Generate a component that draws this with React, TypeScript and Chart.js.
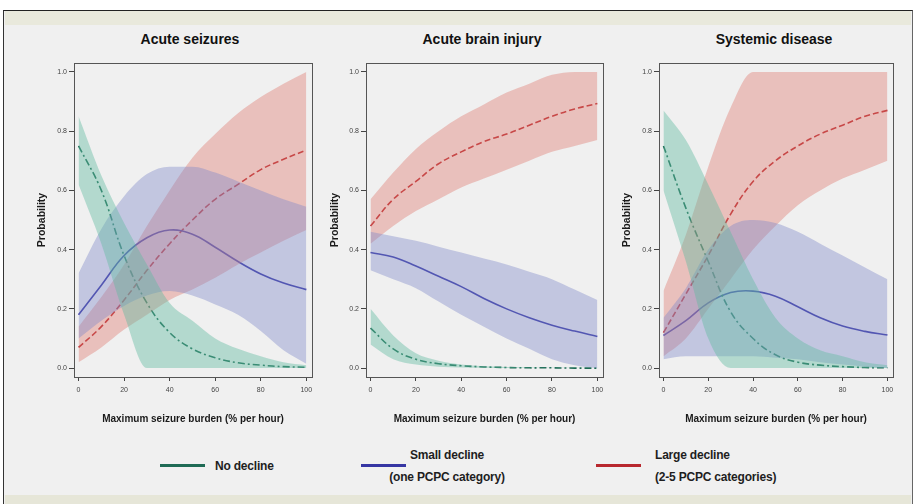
import React, { useEffect, useRef } from "react";
import { Chart, registerables } from "chart.js";
Chart.register(...registerables);

// ---- data ----
const burden = [0, 10, 20, 30, 40, 50, 60, 70, 80, 90, 100];
const yTickValues = [0, 0.2, 0.4, 0.6, 0.8, 1.0];
const xTickValues = [0, 20, 40, 60, 80, 100];
const panelTitles = ["Acute seizures", "Acute brain injury", "Systemic disease"];
const xAxisTitle = "Maximum seizure burden (% per hour)";
const yAxisTitle = "Probability";

// Acute seizures
const seizNone = [0.75, 0.6, 0.38, 0.22, 0.12, 0.065, 0.035, 0.018, 0.01, 0.005, 0.003];
const seizNoneHi = [0.85, 0.65, 0.49, 0.35, 0.22, 0.16, 0.1, 0.065, 0.04, 0.02, 0.01];
const seizNoneLo = [0.62, 0.42, 0.18, 0.0, 0, 0, 0, 0, 0, 0, 0];
const seizSmall = [0.18, 0.28, 0.38, 0.44, 0.466, 0.452, 0.408, 0.36, 0.318, 0.287, 0.265];
const seizSmallHi = [0.32, 0.47, 0.58, 0.655, 0.68, 0.68, 0.66, 0.63, 0.6, 0.57, 0.545];
const seizSmallLo = [0.1, 0.16, 0.21, 0.245, 0.26, 0.245, 0.215, 0.18, 0.125, 0.06, 0.015];
const seizLarge = [0.07, 0.14, 0.23, 0.33, 0.42, 0.5, 0.57, 0.62, 0.67, 0.705, 0.736];
const seizLargeHi = [0.14, 0.24, 0.35, 0.48, 0.6, 0.71, 0.79, 0.86, 0.915, 0.96, 1.0];
const seizLargeLo = [0.02, 0.07, 0.13, 0.18, 0.23, 0.265, 0.305, 0.35, 0.39, 0.43, 0.466];

// Acute brain injury
const brainNone = [0.135, 0.065, 0.03, 0.015, 0.008, 0.004, 0.002, 0.001, 0.001, 0.0, 0.0];
const brainNoneHi = [0.2, 0.11, 0.05, 0.025, 0.012, 0.006, 0.004, 0.002, 0.001, 0.001, 0.0];
const brainNoneLo = [0.08, 0.03, 0.012, 0.005, 0.002, 0.001, 0, 0, 0, 0, 0];
const brainSmall = [0.39, 0.375, 0.345, 0.31, 0.275, 0.235, 0.2, 0.17, 0.145, 0.125, 0.107];
const brainSmallHi = [0.46, 0.445, 0.43, 0.41, 0.39, 0.37, 0.35, 0.325, 0.3, 0.265, 0.23];
const brainSmallLo = [0.33, 0.3, 0.27, 0.225, 0.18, 0.14, 0.1, 0.065, 0.03, 0.01, 0.0];
const brainLarge = [0.48, 0.57, 0.63, 0.69, 0.73, 0.765, 0.79, 0.82, 0.85, 0.875, 0.893];
const brainLargeHi = [0.57, 0.66, 0.74, 0.8, 0.85, 0.89, 0.93, 0.96, 0.99, 1.0, 1.0];
const brainLargeLo = [0.42, 0.48, 0.53, 0.57, 0.61, 0.64, 0.67, 0.7, 0.73, 0.75, 0.77];

// Systemic disease
const sysNone = [0.75, 0.54, 0.36, 0.19, 0.1, 0.045, 0.02, 0.01, 0.005, 0.002, 0.001];
const sysNoneHi = [0.87, 0.77, 0.62, 0.46, 0.3, 0.17, 0.1, 0.06, 0.04, 0.02, 0.01];
const sysNoneLo = [0.6, 0.36, 0.1, 0.0, 0, 0, 0, 0, 0, 0, 0];
const sysSmall = [0.11, 0.16, 0.22, 0.255, 0.26, 0.243, 0.207, 0.17, 0.142, 0.124, 0.112];
const sysSmallHi = [0.17, 0.27, 0.4, 0.48, 0.5, 0.49, 0.46, 0.42, 0.38, 0.34, 0.3];
const sysSmallLo = [0.03, 0.04, 0.04, 0.04, 0.04, 0.035, 0.03, 0.02, 0.012, 0.005, 0.0];
const sysLarge = [0.12, 0.25, 0.38, 0.52, 0.63, 0.7, 0.75, 0.79, 0.82, 0.85, 0.87];
const sysLargeHi = [0.26, 0.45, 0.68, 0.88, 1.0, 1.0, 1.0, 1.0, 1.0, 1.0, 1.0];
const sysLargeLo = [0.04, 0.1, 0.2, 0.3, 0.4, 0.48, 0.55, 0.6, 0.64, 0.67, 0.7];

// ---- styling ----
const GREEN = "#1f6b55";
const BLUE = "#3636a3";
const RED = "#b8282e";
const GREEN_BAND = "rgba(95,185,160,0.42)";
const BLUE_BAND = "rgba(125,135,200,0.40)";
const RED_BAND = "rgba(222,120,110,0.40)";

type Series = { mid: number[]; hi: number[]; lo: number[] };
type PanelDef = {
  title: string;
  none: Series;
  small: Series;
  large: Series;
  left: number;
  width: number;
  yWidth: number;
  rightPad: number;
  titleX: number;
};

const panels: PanelDef[] = [
  {
    title: panelTitles[0],
    none: { mid: seizNone, hi: seizNoneHi, lo: seizNoneLo },
    small: { mid: seizSmall, hi: seizSmallHi, lo: seizSmallLo },
    large: { mid: seizLarge, hi: seizLargeHi, lo: seizLargeLo },
    left: 33, width: 285, yWidth: 41, rightPad: 6, titleX: 190,
  },
  {
    title: panelTitles[1],
    none: { mid: brainNone, hi: brainNoneHi, lo: brainNoneLo },
    small: { mid: brainSmall, hi: brainSmallHi, lo: brainSmallLo },
    large: { mid: brainLarge, hi: brainLargeHi, lo: brainLargeLo },
    left: 326, width: 286, yWidth: 40, rightPad: 9, titleX: 482,
  },
  {
    title: panelTitles[2],
    none: { mid: sysNone, hi: sysNoneHi, lo: sysNoneLo },
    small: { mid: sysSmall, hi: sysSmallHi, lo: sysSmallLo },
    large: { mid: sysLarge, hi: sysLargeHi, lo: sysLargeLo },
    left: 618, width: 287, yWidth: 41, rightPad: 12, titleX: 774,
  },
];

const CANVAS_TOP = 25;
const CANVAS_H = 410;

const pts = (arr: number[]) => burden.map((x, i) => ({ x, y: arr[i] }));

const framePlugin = {
  id: "frame",
  afterDatasetsDraw(chart: any) {
    const { ctx, chartArea } = chart;
    ctx.save();
    ctx.strokeStyle = "#555";
    ctx.lineWidth = 1;
    ctx.strokeRect(
      Math.round(chartArea.left) + 0.5,
      Math.round(chartArea.top) + 0.5,
      Math.round(chartArea.right - chartArea.left),
      Math.round(chartArea.bottom - chartArea.top)
    );
    ctx.restore();
  },
};

function bandSets(s: Series, color: string) {
  return [
    {
      data: pts(s.hi),
      borderWidth: 0,
      pointRadius: 0,
      backgroundColor: color,
      fill: "+1",
      cubicInterpolationMode: "monotone",
    },
    {
      data: pts(s.lo),
      borderWidth: 0,
      pointRadius: 0,
      fill: false,
      cubicInterpolationMode: "monotone",
    },
  ];
}

function lineSet(s: Series, color: string, dash: number[]) {
  return {
    data: pts(s.mid),
    borderColor: color,
    borderWidth: 1.6,
    borderDash: dash,
    pointRadius: 0,
    fill: false,
    tension: 0.4,
  };
}

function Panel({ p }: { p: PanelDef }) {
  const ref = useRef<HTMLCanvasElement | null>(null);
  useEffect(() => {
    if (!ref.current) return;
    const chart = new Chart(ref.current, {
      type: "line",
      data: {
        datasets: [
          ...bandSets(p.none, GREEN_BAND),
          ...bandSets(p.small, BLUE_BAND),
          ...bandSets(p.large, RED_BAND),
          lineSet(p.none, GREEN, [7, 3, 2, 3]),
          lineSet(p.small, BLUE, []),
          lineSet(p.large, RED, [6, 3]),
        ] as any,
      },
      options: {
        animation: false,
        responsive: false,
        events: [],
        layout: { padding: { top: 63 - CANVAS_TOP, right: p.rightPad, left: 0, bottom: 0 } },
        plugins: { legend: { display: false }, tooltip: { enabled: false } },
        scales: {
          x: {
            type: "linear",
            min: -2,
            max: 102.5,
            afterBuildTicks: (scale: any) => {
              scale.ticks = xTickValues.map((v) => ({ value: v }));
            },
            afterFit: (scale: any) => {
              scale.height = CANVAS_TOP + CANVAS_H - 377;
            },
            grid: { display: true, drawOnChartArea: false, drawTicks: true, tickLength: 4, color: "#444" },
            border: { display: true, color: "#555", width: 1 },
            ticks: {
              font: { family: "Liberation Sans", size: 7 },
              color: "#444",
              padding: 5,
              maxRotation: 0,
              callback: (v: any) => String(v),
            },
            title: {
              display: true,
              text: xAxisTitle,
              font: { family: "Liberation Sans", size: 10, weight: "bold" },
              color: "#1a1a1a",
              padding: { top: 0, bottom: 10 },
            },
          },
          y: {
            type: "linear",
            min: -0.03,
            max: 1.03,
            afterBuildTicks: (scale: any) => {
              scale.ticks = yTickValues.map((v) => ({ value: v }));
            },
            afterFit: (scale: any) => {
              scale.width = p.yWidth;
            },
            grid: { display: true, drawOnChartArea: false, drawTicks: true, tickLength: 5, color: "#444" },
            border: { display: true, color: "#555", width: 1 },
            ticks: {
              font: { family: "Liberation Sans", size: 7 },
              color: "#444",
              padding: 2,
              callback: (v: any) => Number(v).toFixed(1),
            },
            title: {
              display: true,
              text: yAxisTitle,
              font: { family: "Liberation Sans", size: 10.5, weight: "bold" },
              color: "#1a1a1a",
              padding: { top: 3, bottom: 0 },
            },
          },
        },
      },
      plugins: [framePlugin],
    });
    return () => chart.destroy();
  }, [p]);
  return (
    <canvas
      ref={ref}
      width={p.width}
      height={CANVAS_H}
      style={{ position: "absolute", left: p.left, top: CANVAS_TOP, width: p.width, height: CANVAS_H }}
    />
  );
}

const legendFont: React.CSSProperties = {
  position: "absolute",
  fontFamily: "Liberation Sans, Arial, sans-serif",
  fontSize: 12,
  fontWeight: "bold",
  letterSpacing: "-0.2px",
  color: "#1e1e1e",
  whiteSpace: "nowrap",
  lineHeight: "14px",
};

export default function App() {
  return (
    <div
      style={{
        position: "fixed",
        left: 0,
        top: 0,
        width: 915,
        height: 504,
        background: "#ffffff",
        overflow: "hidden",
      }}
    >
      <div
        style={{
          position: "absolute",
          left: 3,
          top: 10,
          width: 908,
          height: 494,
          borderTop: "1.5px solid #222",
          borderLeft: "1.5px solid #333",
          borderRight: "1px solid #666",
          background: "#f0f0f0",
        }}
      />
      <div style={{ position: "absolute", left: 5, top: 11, width: 906, height: 14, background: "#e9e9dc" }} />
      <div style={{ position: "absolute", left: 5, top: 495, width: 906, height: 9, background: "#e6e6d8" }} />
      {panels.map((p, i) => (
        <div
          key={"t" + i}
          style={{
            position: "absolute",
            left: p.titleX,
            top: 39,
            transform: "translate(-50%, -50%)",
            fontFamily: "Liberation Sans, Arial, sans-serif",
            fontWeight: "bold",
            fontSize: 14,
            color: "#111",
            whiteSpace: "nowrap",
          }}
        >
          {p.title}
        </div>
      ))}
      {panels.map((p, i) => (
        <Panel key={"p" + i} p={p} />
      ))}
      {/* legend */}
      <div style={{ position: "absolute", left: 160, top: 464, width: 45, height: 3, background: GREEN }} />
      <div style={{ ...legendFont, left: 215, top: 459 }}>No decline</div>
      <div style={{ position: "absolute", left: 361, top: 464, width: 45, height: 3, background: BLUE }} />
      <div style={{ ...legendFont, left: 447, top: 448, transform: "translateX(-50%)", textAlign: "center" }}>
        Small decline
        <br />
        <span style={{ display: "inline-block", marginTop: 8 }}>(one PCPC category)</span>
      </div>
      <div style={{ position: "absolute", left: 596, top: 464, width: 45, height: 3, background: RED }} />
      <div style={{ ...legendFont, left: 655, top: 448 }}>
        Large decline
        <br />
        <span style={{ display: "inline-block", marginTop: 8 }}>(2-5 PCPC categories)</span>
      </div>
    </div>
  );
}
